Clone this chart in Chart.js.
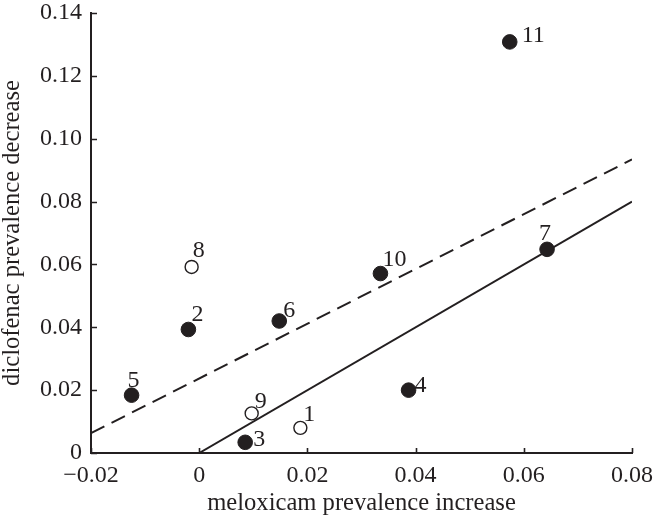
<!DOCTYPE html>
<html>
<head>
<meta charset="utf-8">
<script src="https://cdn.jsdelivr.net/npm/chart.js@4.4.1/dist/chart.umd.min.js"></script>
<style>
  html, body { margin: 0; padding: 0; background: #ffffff; }
  #wrap { width: 654px; height: 517px; }
</style>
</head>
<body>
<div id="wrap"><canvas id="c" width="654" height="517"></canvas></div>
<script>
// ---- data ----
const pointIds   = ['1', '2', '3', '4', '5', '6', '7', '8', '9', '10', '11'];
const meloxicam  = [0.0187, -0.0020, 0.0085, 0.0387, -0.0125, 0.0148, 0.0643, -0.0014, 0.0097, 0.0335, 0.0574];
const diclofenac = [0.0080, 0.0393, 0.0034, 0.0200, 0.0184, 0.0420, 0.0648, 0.0592, 0.0126, 0.0571, 0.1308];
const openMarker = [true, false, false, false, false, false, false, true, true, false, false];

const solidLineX  = [0.00, 0.08];
const solidLineY  = [0.00, 0.08];
const dashedLineX = [-0.02, 0.08];
const dashedLineY = [0.0063, 0.0934];

const xTicksRange = { min: -0.02, max: 0.08, step: 0.02 };
const yTicksRange = { min: 0, max: 0.14, step: 0.02 };

const xTitle = 'meloxicam prevalence increase';
const yTitle = 'diclofenac prevalence decrease';

// label placement offsets (styling only): [dx, dy, align]
const labelOffsets = [
  [3, -7, 'left'], [3, -8, 'left'], [8, 4, 'left'], [6, 2, 'left'],
  [-4, -8, 'left'], [4, -4, 'left'], [-8, -9, 'left'], [1, -10, 'left'],
  [3, -5, 'left'], [2, -8, 'left'], [12, 0, 'left']
];

const INK = '#231f20';
const FONT = 'Liberation Serif';

const filledPts = [], openPts = [];
pointIds.forEach((id, i) => {
  const p = { x: meloxicam[i], y: diclofenac[i], id: id, k: i };
  (openMarker[i] ? openPts : filledPts).push(p);
});

const fmt = v => {
  if (Math.abs(v) < 1e-9) return '0';
  return (v < 0 ? '\u2212' : '') + Math.abs(v).toFixed(2);
};

const decorPlugin = {
  id: 'decor',
  afterDatasetsDraw(chart) {
    const ctx = chart.ctx;
    const xs = chart.scales.x, ys = chart.scales.y;
    const area = chart.chartArea;
    ctx.save();
    // inward tick marks
    ctx.strokeStyle = INK;
    ctx.lineWidth = 1.6;
    ctx.beginPath();
    xs.ticks.forEach(t => {
      const px = Math.round(xs.getPixelForValue(t.value)) + 0.5;
      ctx.moveTo(px, area.bottom);
      ctx.lineTo(px, area.bottom - 5);
    });
    ys.ticks.forEach(t => {
      const py = Math.round(ys.getPixelForValue(t.value)) + 0.5;
      ctx.moveTo(area.left, py);
      ctx.lineTo(area.left + 6, py);
    });
    ctx.stroke();
    // point labels
    ctx.fillStyle = INK;
    ctx.font = '24px "' + FONT + '"';
    ctx.textBaseline = 'alphabetic';
    pointIds.forEach((id, i) => {
      const px = xs.getPixelForValue(meloxicam[i]);
      const py = ys.getPixelForValue(diclofenac[i]);
      const o = labelOffsets[i];
      ctx.textAlign = o[2];
      ctx.fillText(id, px + o[0], py + o[1]);
    });
    ctx.restore();
  }
};

new Chart(document.getElementById('c'), {
  type: 'scatter',
  data: {
    datasets: [
      {
        type: 'line',
        data: solidLineX.map((x, i) => ({ x: x, y: solidLineY[i] })),
        borderColor: INK, borderWidth: 2, pointRadius: 0, fill: false, order: 3
      },
      {
        type: 'line',
        data: dashedLineX.map((x, i) => ({ x: x, y: dashedLineY[i] })),
        borderColor: INK, borderWidth: 2, borderDash: [15, 8], pointRadius: 0, fill: false, order: 2
      },
      {
        data: filledPts,
        pointRadius: 7.3, pointHoverRadius: 7.3,
        backgroundColor: INK, borderColor: INK, borderWidth: 1, order: 1
      },
      {
        data: openPts,
        pointRadius: 6.5, pointHoverRadius: 6.5,
        backgroundColor: '#ffffff', borderColor: INK, borderWidth: 1.4, order: 0
      }
    ]
  },
  options: {
    responsive: false,
    animation: false,
    events: [],
    layout: { padding: { top: 13, right: 22, left: 0, bottom: 0 } },
    plugins: { legend: { display: false }, tooltip: { enabled: false } },
    scales: {
      x: {
        type: 'linear',
        min: xTicksRange.min, max: xTicksRange.max,
        afterFit: s => { s.height = 64; s.paddingLeft = 0; s.paddingRight = 0; },
        ticks: {
          stepSize: xTicksRange.step, callback: v => fmt(v),
          color: INK, font: { family: FONT, size: 24 }, padding: 8, maxRotation: 0
        },
        grid: { display: false, drawTicks: false, tickLength: 0 },
        border: { display: true, color: INK, width: 2 },
        title: {
          display: true, text: xTitle, color: INK,
          font: { family: FONT, size: 24.6, lineHeight: 1 }, padding: { top: 0, bottom: 1 }
        }
      },
      y: {
        type: 'linear',
        min: yTicksRange.min, max: yTicksRange.max,
        afterFit: s => { s.width = 91; s.paddingTop = 0; s.paddingBottom = 0; },
        ticks: {
          stepSize: yTicksRange.step, callback: v => fmt(v),
          color: INK, font: { family: FONT, size: 24 }, padding: 9
        },
        grid: { display: false, drawTicks: false, tickLength: 0 },
        border: { display: true, color: INK, width: 2 },
        title: {
          display: true, text: yTitle, color: INK,
          font: { family: FONT, size: 24.6, lineHeight: 1 }, padding: { top: 0, bottom: 0 }
        }
      }
    }
  },
  plugins: [decorPlugin]
});
</script>
</body>
</html>
